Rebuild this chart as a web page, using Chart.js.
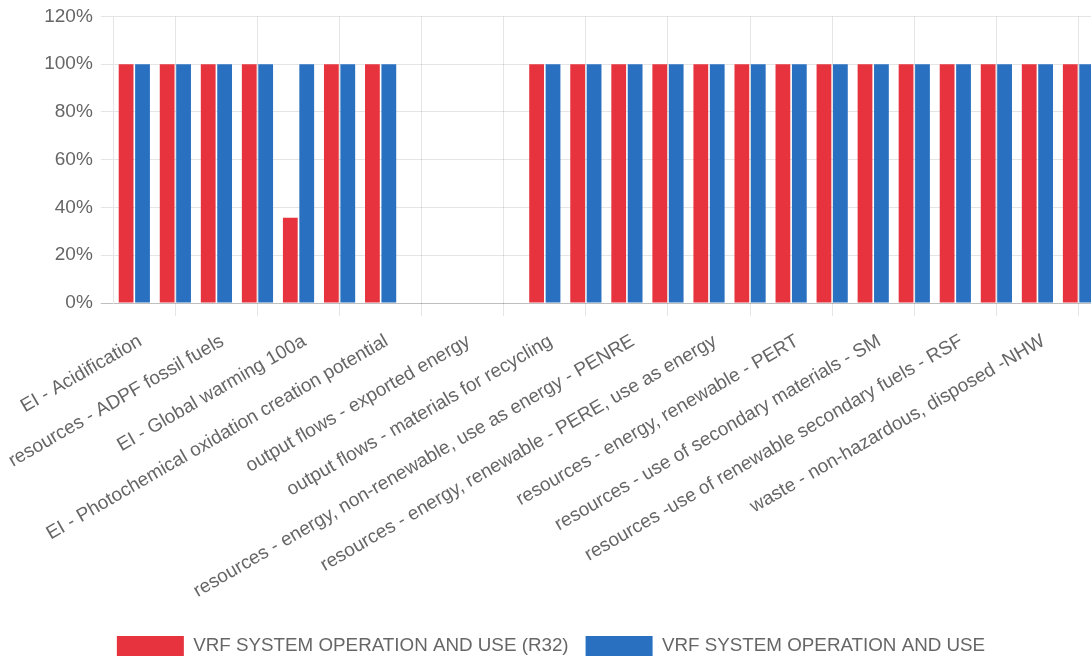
<!DOCTYPE html>
<html>
<head>
<meta charset="utf-8">
<title>VRF system comparison</title>
<script src="https://cdn.jsdelivr.net/npm/chart.js@4.4.1/dist/chart.umd.min.js"></script>
<style>
  html, body { margin: 0; padding: 0; background: #fff; overflow: hidden; }
  .chart-wrap { position: relative; width: 1102px; height: 666px; }
</style>
</head>
<body>
<div class="chart-wrap"><canvas id="chart"></canvas></div>
<script>
  // Categories (only every other one ends up labelled, like the original)
  const categories = [
    'EI - Acidification',
    'EI - Eutrophication',
    'resources - ADPF fossil fuels',
    'resources - ADPE elements',
    'EI - Global warming 100a',
    'EI - Ozone depletion',
    'EI - Photochemical oxidation creation potential',
    'output flows - components for re-use',
    'output flows - exported energy',
    'output flows - energy recovery',
    'output flows - materials for recycling',
    'resources - energy, non-renewable - PENRM',
    'resources - energy, non-renewable, use as energy - PENRE',
    'resources - energy, non-renewable - PENRT',
    'resources - energy, renewable - PERE, use as energy',
    'resources - energy, renewable - PERM',
    'resources - energy, renewable - PERT',
    'resources - net use of fresh water - FW',
    'resources - use of secondary materials - SM',
    'resources - non-renewable fuels - NRSF',
    'resources -use of renewable secondary fuels - RSF',
    'waste - hazardous, disposed - HWD',
    'waste - non-hazardous, disposed -NHW',
    'waste - radioactive, disposed - RWD'
  ];

  const r32Values = [100, 100, 100, 100, 35.7, 100, 100, 0, 0, 0, 100, 100,
                     100, 100, 100, 100, 100, 100, 100, 100, 100, 100, 100, 100];
  const baseValues = [100, 100, 100, 100, 100, 100, 100, 0, 0, 0, 100, 100,
                      100, 100, 100, 100, 100, 100, 100, 100, 100, 100, 100, 100];

  const yTicks = [0, 20, 40, 60, 80, 100, 120];

  const RED = '#e7333e';
  const BLUE = '#2970c0';
  const GRID = 'rgba(0,0,0,0.1)';
  const ZERO_LINE = 'rgba(0,0,0,0.25)';

  Chart.defaults.font.family = "'Helvetica Neue', Helvetica, 'Liberation Sans', Arial, sans-serif";
  Chart.defaults.font.size = 19;
  Chart.defaults.color = '#666';

  new Chart(document.getElementById('chart'), {
    type: 'bar',
    data: {
      labels: categories,
      datasets: [
        { label: 'VRF SYSTEM OPERATION AND USE (R32)', data: r32Values, backgroundColor: RED },
        { label: 'VRF SYSTEM OPERATION AND USE', data: baseValues, backgroundColor: BLUE }
      ]
    },
    options: {
      responsive: true,
      maintainAspectRatio: false,
      animation: false,
      layout: { padding: { left: 3, right: 3 } },
      plugins: {
        legend: {
          position: 'bottom',
          labels: { boxWidth: 67, boxHeight: 20, padding: 17, font: { size: 18.8 } }
        },
        tooltip: { enabled: false }
      },
      scales: {
        x: {
          border: { display: false },
          grid: { tickLength: 13, color: GRID },
          ticks: { padding: 14, labelOffset: 6, minRotation: 30, maxRotation: 30 },
          // keep the plot bottom where the original has it
          afterFit: (scale) => { scale.height = 316; }
        },
        y: {
          min: yTicks[0],
          max: yTicks[yTicks.length - 1],
          grid: {
            tickLength: 13,
            color: (ctx) => (ctx.tick && ctx.tick.value === 0 ? ZERO_LINE : GRID)
          },
          ticks: {
            stepSize: yTicks[1] - yTicks[0],
            padding: 8,
            callback: (v) => v + '%'
          },
          afterFit: (scale) => {
            scale.width = 109.5;
            scale.paddingTop -= 3; // tick padding also pads the top, undo that
          }
        }
      }
    }
  });
</script>
</body>
</html>
